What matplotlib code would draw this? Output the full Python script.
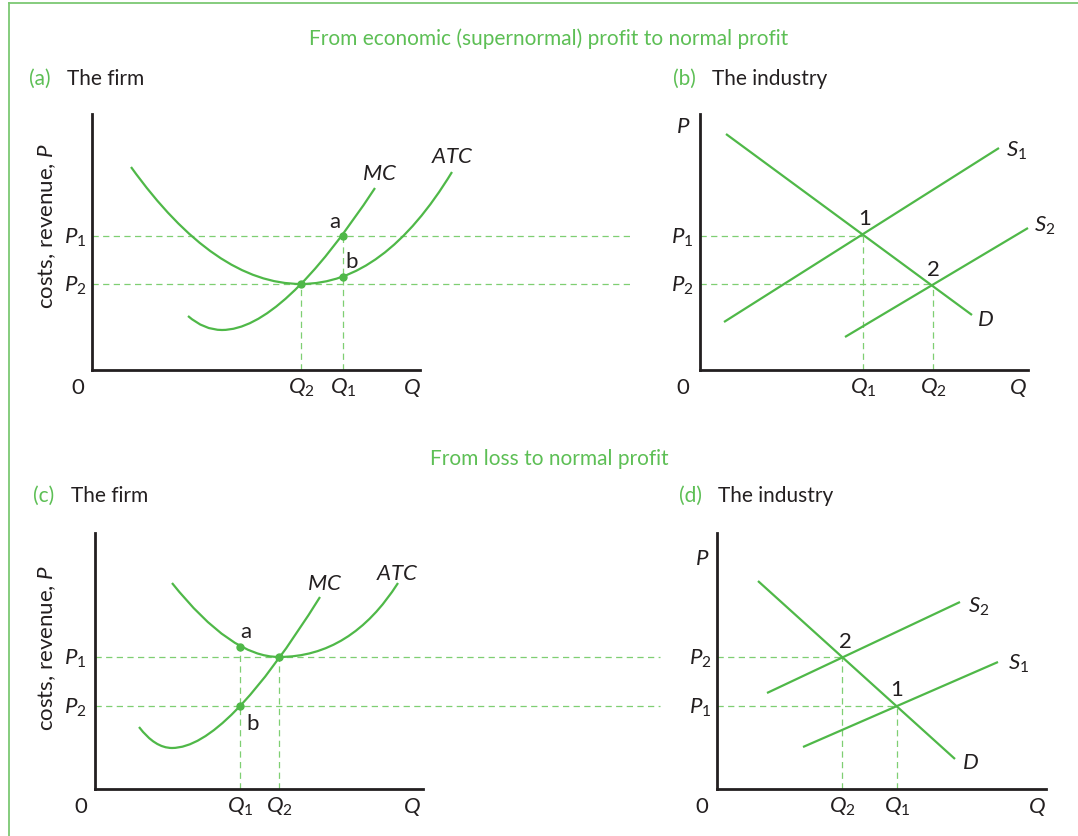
import matplotlib
matplotlib.use("Agg")
import matplotlib.pyplot as plt
from matplotlib.lines import Line2D
from matplotlib.path import Path
from matplotlib.patches import PathPatch

plt.rcParams['font.family'] = ['Lato', 'DejaVu Sans']
plt.rcParams['mathtext.fontset'] = 'custom'
plt.rcParams['mathtext.it'] = 'Lato:italic'
plt.rcParams['mathtext.rm'] = 'Lato'
plt.rcParams['mathtext.bf'] = 'Lato:bold'

W, H = 1078, 836
GREEN = '#4fb848'
DASH = '#7fcf72'
TGREEN = '#5dbf55'
AXC = '#231f20'

# ---------------- data (units: position along each axis) ----------------
# Curves are given as quadratic-Bezier nodes: on-curve, control, on-curve, control, on-curve
# (a) firm: economic profit -> normal profit
a_atc_q = [39, 123, 209, 292, 360]
a_atc_c = [203, 86, 86, 86, 198]
a_mc_q = [96, 112, 130, 190, 283]
a_mc_c = [54, 40, 40, 40, 182]
a_P = {'P1': 134, 'P2': 86}
a_Q = {'Q2': 209, 'Q1': 251}
a_points_q = [209, 251, 251]
a_points_c = [86, 134, 93]

# (b) industry: supply shifts right
b_d_q, b_d_p = [26, 272], [236, 55]
b_s1_q, b_s1_p = [24, 299], [48, 222]
b_s2_q, b_s2_p = [145, 328], [33, 142]
b_eq_q = [163, 233]
b_eq_p = [134, 86]

# (c) firm: loss -> normal profit
c_atc_q = [77, 136, 184, 256, 303]
c_atc_c = [206, 132, 132, 132, 206]
c_mc_q = [44, 60, 77, 131, 225]
c_mc_c = [62, 41, 41, 41, 192]
c_P = {'P1': 132, 'P2': 83}
c_Q = {'Q1': 145, 'Q2': 184}
c_points_q = [145, 145, 184]
c_points_c = [142, 83, 132]

# (d) industry: supply shifts left
d_d_q, d_d_p = [41, 238], [208, 30]
d_s2_q, d_s2_p = [50, 243], [96, 187]
d_s1_q, d_s1_p = [86, 281], [42, 127]
d_eq_q = [125, 180]
d_eq_p = [132, 83]

fig = plt.figure(figsize=(W / 100, H / 100), dpi=100)


def make_ax(ox, oy, w, h):
    ax = fig.add_axes([ox / W, 1 - oy / H, w / W, h / H])
    ax.set_xlim(0, w)
    ax.set_ylim(0, h)
    for s in ['top', 'right']:
        ax.spines[s].set_visible(False)
    for s in ['left', 'bottom']:
        ax.spines[s].set_color(AXC)
        ax.spines[s].set_linewidth(2.0)
    ax.set_xticks([])
    ax.set_yticks([])
    ax.patch.set_alpha(0)
    return ax


def line(ax, x, y):
    ax.plot(x, y, color=GREEN, lw=1.6, solid_capstyle='butt', clip_on=False, zorder=3)


def bez(ax, x, y):
    verts = list(zip(x, y))
    codes = [Path.MOVETO] + [Path.CURVE3] * (len(verts) - 1)
    ax.add_patch(PathPatch(Path(verts, codes), fill=False, edgecolor=GREEN, lw=1.6,
                           capstyle='butt', zorder=3, clip_on=False))


def hdash(ax, y, x0, x1):
    ax.plot([x0, x1], [y, y], color=DASH, lw=0.9, ls=(0, (5, 3.5)), clip_on=False, zorder=2)


def vdash(ax, x, y1):
    ax.plot([x, x], [0, y1], color=DASH, lw=0.9, ls=(0, (5, 3.5)), clip_on=False, zorder=2)


def lab(ax, x, y, s, size=16, **kw):
    ax.text(x, y, s, fontsize=size, ha='center', va='baseline', color='#231f20', clip_on=False, **kw)


def plab(ax, x, level, s):
    lab(ax, x, level - 8, s)


def qlab(ax, x, s):
    lab(ax, x, -24, s)


# ---------------- (a) ----------------
ax = make_ax(92, 370, 328, 256)
hdash(ax, a_P['P1'], 0, 540)
hdash(ax, a_P['P2'], 0, 540)
vdash(ax, a_Q['Q2'], a_P['P2'])
vdash(ax, a_Q['Q1'], a_P['P1'])
bez(ax, a_atc_q, a_atc_c)
bez(ax, a_mc_q, a_mc_c)
ax.plot(a_points_q, a_points_c, 'o', color=GREEN, ms=5, zorder=4, clip_on=False)
plab(ax, -17, a_P['P1'], r'$P_{\mathrm{1}}$')
plab(ax, -17, a_P['P2'], r'$P_{\mathrm{2}}$')
qlab(ax, -14, '0')
qlab(ax, a_Q['Q2'], r'$Q_{\mathrm{2}}$')
qlab(ax, a_Q['Q1'], r'$Q_{\mathrm{1}}$')
qlab(ax, 320, r'$Q$')
lab(ax, 288, 190, r'$MC$')
lab(ax, 361, 207, r'$ATC$')
lab(ax, 243, 142, 'a')
lab(ax, 260, 102, 'b')

# ---------------- (b) ----------------
ax = make_ax(700, 370, 328, 256)
hdash(ax, b_eq_p[0], 0, b_eq_q[0])
hdash(ax, b_eq_p[1], 0, b_eq_q[1])
vdash(ax, b_eq_q[0], b_eq_p[0])
vdash(ax, b_eq_q[1], b_eq_p[1])
line(ax, b_d_q, b_d_p)
line(ax, b_s1_q, b_s1_p)
line(ax, b_s2_q, b_s2_p)
lab(ax, -17, 237, r'$P$')
plab(ax, -18, b_eq_p[0], r'$P_{\mathrm{1}}$')
plab(ax, -18, b_eq_p[1], r'$P_{\mathrm{2}}$')
qlab(ax, -17, '0')
qlab(ax, b_eq_q[0], r'$Q_{\mathrm{1}}$')
qlab(ax, b_eq_q[1], r'$Q_{\mathrm{2}}$')
qlab(ax, 318, r'$Q$')
lab(ax, 317, 213, r'$S_{\mathrm{1}}$')
lab(ax, 345, 138, r'$S_{\mathrm{2}}$')
lab(ax, 285, 44, r'$D$')
lab(ax, 165, 145, '1')
lab(ax, 233, 94, '2')

# ---------------- (c) ----------------
ax = make_ax(95, 789, 328, 256)
hdash(ax, c_P['P1'], 0, 565)
hdash(ax, c_P['P2'], 0, 565)
vdash(ax, c_Q['Q1'], c_points_c[0])
vdash(ax, c_Q['Q2'], c_P['P1'])
bez(ax, c_atc_q, c_atc_c)
bez(ax, c_mc_q, c_mc_c)
ax.plot(c_points_q, c_points_c, 'o', color=GREEN, ms=5, zorder=4, clip_on=False)
plab(ax, -20, c_P['P1'], r'$P_{\mathrm{1}}$')
plab(ax, -20, c_P['P2'], r'$P_{\mathrm{2}}$')
qlab(ax, -14, '0')
qlab(ax, c_Q['Q1'], r'$Q_{\mathrm{1}}$')
qlab(ax, c_Q['Q2'], r'$Q_{\mathrm{2}}$')
qlab(ax, 317, r'$Q$')
lab(ax, 230, 199, r'$MC$')
lab(ax, 303, 209, r'$ATC$')
lab(ax, 151, 151, 'a')
lab(ax, 158, 59, 'b')

# ---------------- (d) ----------------
ax = make_ax(717, 789, 329, 256)
hdash(ax, d_eq_p[0], 0, d_eq_q[0])
hdash(ax, d_eq_p[1], 0, d_eq_q[1])
vdash(ax, d_eq_q[0], d_eq_p[0])
vdash(ax, d_eq_q[1], d_eq_p[1])
line(ax, d_d_q, d_d_p)
line(ax, d_s2_q, d_s2_p)
line(ax, d_s1_q, d_s1_p)
lab(ax, -15, 224, r'$P$')
plab(ax, -17, d_eq_p[0], r'$P_{\mathrm{2}}$')
plab(ax, -17, d_eq_p[1], r'$P_{\mathrm{1}}$')
qlab(ax, -15, '0')
qlab(ax, d_eq_q[0], r'$Q_{\mathrm{2}}$')
qlab(ax, d_eq_q[1], r'$Q_{\mathrm{1}}$')
qlab(ax, 320, r'$Q$')
lab(ax, 262, 176, r'$S_{\mathrm{2}}$')
lab(ax, 302, 119, r'$S_{\mathrm{1}}$')
lab(ax, 253, 20, r'$D$')
lab(ax, 128, 141, '2')
lab(ax, 180, 93, '1')


# ---------------- titles and labels ----------------
def ftext(x, y, s, **kw):
    fig.text(x / W, 1 - y / H, s, **kw)


ftext(549, 45, 'From economic (supernormal) profit to normal profit', fontsize=15,
      color=TGREEN, ha='center', va='baseline')
ftext(549, 465, 'From loss to normal profit', fontsize=15, color=TGREEN,
      ha='center', va='baseline')
for x1, x2, y, tag, name in [(29, 67, 85, '(a)', 'The firm'),
                             (673, 712, 85, '(b)', 'The industry'),
                             (33, 71, 502, '(c)', 'The firm'),
                             (679, 718, 502, '(d)', 'The industry')]:
    ftext(x1, y, tag, fontsize=15, color=TGREEN, ha='left', va='baseline')
    ftext(x2, y, name, fontsize=15, color='#231f20', ha='left', va='baseline')

ftext(47, 226, r'costs, revenue, $P$', fontsize=16, color='#231f20', rotation=90,
      ha='center', va='center')
ftext(47, 648, r'costs, revenue, $P$', fontsize=16, color='#231f20', rotation=90,
      ha='center', va='center')

# frame (left and top edges)
fig.add_artist(Line2D([9 / W, 9 / W], [0, 1 - 3 / H], transform=fig.transFigure,
                      color='#7cc873', lw=1.3))
fig.add_artist(Line2D([9 / W, 1], [1 - 3 / H, 1 - 3 / H], transform=fig.transFigure,
                      color='#7cc873', lw=1.3))

fig.savefig('out.png', dpi=100)
